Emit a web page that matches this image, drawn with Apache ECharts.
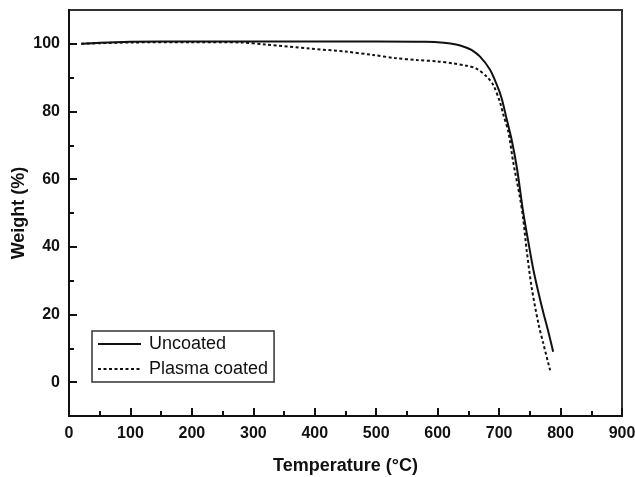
<!DOCTYPE html>
<html>
<head>
<meta charset="utf-8">
<script src="https://cdn.jsdelivr.net/npm/echarts@6/dist/echarts.min.js"></script>
<style>
html,body{margin:0;padding:0;background:#fff;}
#chart{width:635px;height:477px;}
</style>
</head>
<body>
<div id="chart"></div>
<script>
var seriesNames = ['Uncoated', 'Plasma coated'];
var uncoatedT = [20, 50, 100, 150, 200, 300, 400, 500, 580, 610, 630, 645, 655, 669, 685, 696, 704, 712, 720, 729, 739, 748, 756, 764, 772, 780, 788];
var uncoatedW = [100, 100.3, 100.6, 100.7, 100.7, 100.7, 100.7, 100.7, 100.6, 100.3, 99.8, 99, 98.2, 96.2, 92.4, 88, 84, 78, 72, 63.3, 50.5, 41, 33, 26.5, 20.5, 15, 9];
var coatedT = [20, 50, 100, 200, 280, 320, 392, 450, 495, 530, 566, 600, 625, 645, 663, 680, 690, 701, 707, 715, 723, 734, 739, 745, 753, 764, 772, 783];
var coatedW = [100, 100.2, 100.4, 100.5, 100.4, 99.8, 98.6, 97.7, 96.7, 95.8, 95.2, 94.8, 94.2, 93.6, 92.7, 90.3, 88, 83, 79, 74, 65, 54.5, 48.6, 38.8, 28, 17.3, 11.4, 3.5];
var yMajorTicks = [0, 20, 40, 60, 80, 100];
var yMinorTicks = [10, 30, 50, 70, 90];
var xTitle = 'Temperature (°C)';
var yTitle = 'Weight (%)';

function pairs(xs, ys) { return xs.map(function (x, i) { return [x, ys[i]]; }); }

var FONT = "'Liberation Sans', Arial, sans-serif";
var chart = echarts.init(document.getElementById('chart'));
chart.setOption({
  animation: false,
  backgroundColor: '#fff',
  grid: { left: 69, right: 13, top: 10, bottom: 61, containLabel: false, outerBoundsMode: 'none', show: true, borderColor: '#333', borderWidth: 2, backgroundColor: 'transparent' },
  legend: {
    orient: 'vertical', left: 92, top: 331,
    itemWidth: 43, itemHeight: 14, itemGap: 7,
    padding: [4, 6, 4, 5],
    borderColor: '#333', borderWidth: 1.5,
    itemStyle: { opacity: 0 },
    textStyle: { fontFamily: FONT, fontSize: 18, color: '#111', padding: [0, 0, 0, 3] },
    data: seriesNames
  },
  xAxis: {
    type: 'value', min: 0, max: 900, interval: 100,
    name: xTitle, nameLocation: 'middle', nameGap: 41, nameMoveOverlap: false,
    nameTextStyle: { fontFamily: FONT, fontSize: 18, fontWeight: 'bold', color: '#111' },
    axisLine: { show: true, onZero: false, lineStyle: { color: '#111', width: 2 } },
    axisTick: { show: true, inside: true, length: 8, lineStyle: { color: '#111', width: 2 } },
    minorTick: { show: true, splitNumber: 2, length: 5, lineStyle: { color: '#111', width: 2 } },
    axisLabel: { fontFamily: FONT, fontSize: 16, fontWeight: 'bold', color: '#111', margin: 10 },
    splitLine: { show: false }
  },
  yAxis: [{
    type: 'value', min: -10, max: 110,
    name: yTitle, nameLocation: 'middle', nameGap: 41, nameRotate: 90, nameMoveOverlap: false,
    nameTextStyle: { fontFamily: FONT, fontSize: 18, fontWeight: 'bold', color: '#111' },
    axisLine: { show: true, onZero: false, lineStyle: { color: '#111', width: 2 } },
    axisTick: { show: true, inside: true, length: 8, customValues: yMajorTicks, lineStyle: { color: '#111', width: 2 } },
    axisLabel: { fontFamily: FONT, fontSize: 16, fontWeight: 'bold', color: '#111', margin: 9, customValues: yMajorTicks },
    splitLine: { show: false }
  }, {
    type: 'value', min: -10, max: 110, position: 'left',
    axisLine: { show: false, onZero: false },
    axisTick: { show: true, inside: true, length: 5, customValues: yMinorTicks, lineStyle: { color: '#111', width: 2 } },
    axisLabel: { show: false, customValues: yMinorTicks },
    splitLine: { show: false }
  }],
  series: [{
    name: seriesNames[0], type: 'line', yAxisIndex: 0, symbol: 'none', smooth: 0.3,
    lineStyle: { color: '#111', width: 2 }, itemStyle: { color: '#111' },
    data: pairs(uncoatedT, uncoatedW)
  }, {
    name: seriesNames[1], type: 'line', yAxisIndex: 0, symbol: 'none', smooth: 0.3,
    lineStyle: { color: '#111', width: 2, type: [3, 2.5] }, itemStyle: { color: '#111' },
    data: pairs(coatedT, coatedW)
  }]
});
</script>
</body>
</html>
